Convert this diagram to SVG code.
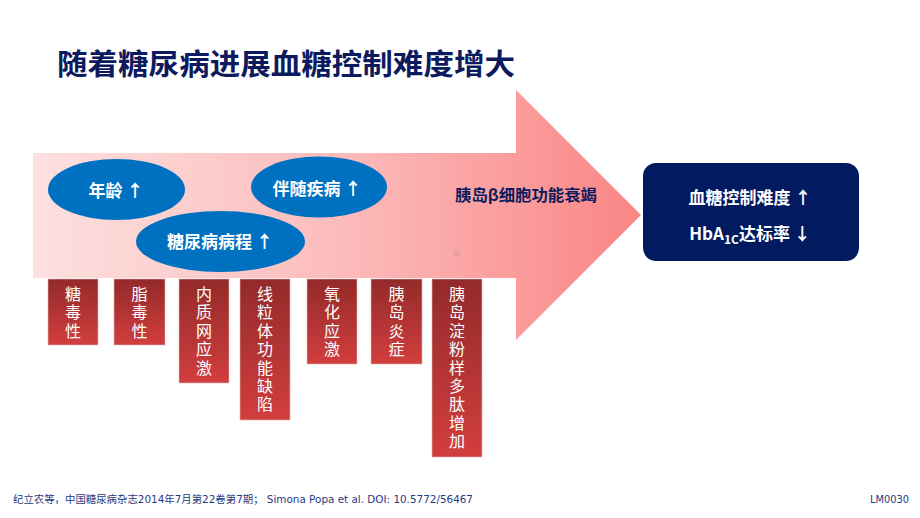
<svg xmlns="http://www.w3.org/2000/svg" width="920" height="518" viewBox="0 0 920 518">
<defs>
<linearGradient id="arrowGrad" gradientUnits="userSpaceOnUse" x1="33" y1="0" x2="641" y2="0">
<stop offset="0" stop-color="#fde0e0"/>
<stop offset="0.5" stop-color="#fcbcbc"/>
<stop offset="1" stop-color="#fa8585"/>
</linearGradient>
<linearGradient id="redGrad" x1="0" y1="0" x2="0" y2="1">
<stop offset="0" stop-color="#932a2a"/>
<stop offset="1" stop-color="#d23e3e"/>
</linearGradient>
<style>
.cjk{font-family:"Noto Sans CJK SC","Liberation Sans",sans-serif;}
.title{font-size:29px;font-weight:bold;fill:#0d1b5e;}
.ell{fill:#0070c0;}
.elltxt{font-size:17px;font-weight:bold;fill:#ffffff;text-anchor:middle;}
.boxtxt{font-size:17px;font-weight:bold;fill:#ffffff;text-anchor:middle;}
.red{fill:url(#redGrad);stroke:#e8b4b4;stroke-width:0.6;}
.vt{font-size:16px;fill:#ffffff;writing-mode:vertical-rl;text-orientation:upright;letter-spacing:2.4px;}
.foot{font-family:"DejaVu Sans","Noto Sans CJK SC",sans-serif;font-size:10px;fill:#1f3a80;}
</style>
</defs>
<rect width="920" height="518" fill="#ffffff"/>
<text id="title" class="cjk title" x="57" y="75" textLength="458" lengthAdjust="spacingAndGlyphs">随着糖尿病进展血糖控制难度增大</text>

<g id="arrow">
<polygon points="33,153 516,153 516,90 641,215 516,340 516,278 33,278" fill="url(#arrowGrad)"/>
<rect x="454" y="250" width="6" height="6" fill="#e9a0a0"/>
<text class="cjk" x="455" y="201" font-size="15.5" font-weight="bold" fill="#0d1b5e" textLength="142" lengthAdjust="spacingAndGlyphs">胰岛β细胞功能衰竭</text>
</g>

<g id="age">
<ellipse class="ell" cx="116.5" cy="189.5" rx="68.5" ry="30.5"/>
<text class="cjk elltxt" x="116" y="197">年龄 ↑</text>
</g>
<g id="comorbid">
<ellipse class="ell" cx="319" cy="187" rx="68" ry="30.5"/>
<text class="cjk elltxt" x="317" y="195">伴随疾病 ↑</text>
</g>
<g id="duration">
<ellipse class="ell" cx="220.5" cy="241.5" rx="84.5" ry="30.5"/>
<text class="cjk elltxt" x="220" y="248">糖尿病病程 ↑</text>
</g>

<g id="result">
<rect x="643" y="163" width="216" height="98" rx="13" ry="13" fill="#021a5f"/>
<text class="cjk boxtxt" x="750" y="204">血糖控制难度 ↑</text>
<text class="cjk boxtxt" x="750" y="240">HbA<tspan font-size="12" dy="4">1C</tspan><tspan dy="-4">达标率 ↓</tspan></text>
</g>

<g id="f1">
<rect class="red" x="48" y="279" width="50" height="66"/>
<text class="cjk vt" x="73" y="286">糖毒性</text>
</g>
<g id="f2">
<rect class="red" x="114" y="279" width="51" height="66"/>
<text class="cjk vt" x="139.5" y="286">脂毒性</text>
</g>
<g id="f3">
<rect class="red" x="179" y="279" width="50" height="104"/>
<text class="cjk vt" x="204" y="286">内质网应激</text>
</g>
<g id="f4">
<rect class="red" x="240" y="279" width="50" height="141"/>
<text class="cjk vt" x="265" y="286">线粒体功能缺陷</text>
</g>
<g id="f5">
<rect class="red" x="307" y="279" width="50" height="85"/>
<text class="cjk vt" x="332" y="286">氧化应激</text>
</g>
<g id="f6">
<rect class="red" x="371" y="279" width="51" height="85"/>
<text class="cjk vt" x="396.5" y="286">胰岛炎症</text>
</g>
<g id="f7">
<rect class="red" x="432" y="279" width="50" height="178"/>
<text class="cjk vt" x="457" y="286">胰岛淀粉样多肽增加</text>
</g>

<g id="connectors"></g>

<text class="foot" x="13" y="503" textLength="460" lengthAdjust="spacingAndGlyphs">纪立农等，中国糖尿病杂志2014年7月第22卷第7期； Simona Popa et al. DOI: 10.5772/56467</text>
<text class="foot" x="909" y="503" text-anchor="end" textLength="39" lengthAdjust="spacingAndGlyphs">LM0030</text>
</svg>
